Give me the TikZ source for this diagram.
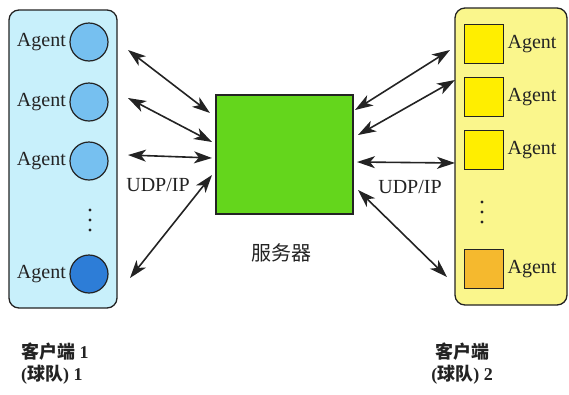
\documentclass[tikz,border=0pt]{standalone}
\usepackage{fontspec}
\setmainfont{Liberation Serif}
\newfontfamily\cjk{Noto Sans CJK SC}
\usepackage{tikz}
\usetikzlibrary{arrows.meta}

\definecolor{paneblue}{RGB}{200,240,251}
\definecolor{paneyellow}{RGB}{250,246,140}
\definecolor{agblue}{RGB}{118,192,240}
\definecolor{agdarkblue}{RGB}{45,125,215}
\definecolor{agyellow}{RGB}{255,238,0}
\definecolor{agorange}{RGB}{245,185,46}
\definecolor{srvgreen}{RGB}{100,214,28}
\definecolor{edge}{RGB}{35,35,35}

\begin{document}
\begin{tikzpicture}[x=1pt, y=-1pt,
    panel/.style={draw=edge, line width=1.3pt, rounded corners=10pt},
    agc/.style={draw=edge, circle, line width=1.2pt, minimum size=38pt, inner sep=0pt, fill=agblue},
    ags/.style={draw=edge, rectangle, line width=1.2pt, minimum size=39pt, inner sep=0pt, fill=agyellow},
    lbl/.style={font=\fontsize{20}{24}\selectfont, text=edge},
    capt/.style={font=\fontsize{18}{22}\selectfont\bfseries, text=edge},
    link/.style={{Stealth[length=18pt,width=12pt,inset=5pt]}-{Stealth[length=18pt,width=12pt,inset=5pt]}, line width=1.6pt, draw=edge},
]
\useasboundingbox (0,0) rectangle (569,394);

% Clients
\node[panel, fill=paneblue, minimum width=108pt, minimum height=298pt] (c1) at (63,159) {};
\node[panel, fill=paneyellow, minimum width=112pt, minimum height=297pt] (c2) at (511,156.5) {};

% Server
\node[draw=edge, line width=1.2pt, fill=srvgreen, minimum width=137pt, minimum height=119pt] (srv) at (284.5,154.5) {};
\node[lbl] (srvlbl) at (281,253) {\cjk 服务器};

% Agents of team 1
\node[agc] (a1) at (89,42) {};
\node[agc] (a2) at (89,102) {};
\node[agc] (a3) at (89,161) {};
\node[agc, fill=agdarkblue] (a4) at (89,274) {};
\foreach \i in {1,...,4}
    \node[lbl, anchor=east] (ta\i) at (a\i.west) {Agent};
\foreach \k in {0,1,2}
    \fill[edge] (90,210+10*\k) circle (1.6pt);

% Agents of team 2
\node[ags] (b1) at (484,44) {};
\node[ags] (b2) at (484,97) {};
\node[ags] (b3) at (484,150) {};
\node[ags, fill=agorange] (b4) at (484,269) {};
\foreach \i in {1,...,4}
    \node[lbl, anchor=west] (tb\i) at (b\i.east) {Agent};
\foreach \k in {0,1,2}
    \fill[edge] (482,202+10*\k) circle (1.6pt);

% Link ends
\coordinate (l1a) at (128,50);  \coordinate (l1b) at (210,113);
\coordinate (l2a) at (128,98);  \coordinate (l2b) at (212,142);
\coordinate (l3a) at (128,155); \coordinate (l3b) at (212,158);
\coordinate (l4a) at (130,278); \coordinate (l4b) at (212,175);
\coordinate (r1a) at (450,50);  \coordinate (r1b) at (355,110);
\coordinate (r2a) at (455,80);  \coordinate (r2b) at (358,135);
\coordinate (r3a) at (455,163); \coordinate (r3b) at (357,162);
\coordinate (r4a) at (447,277); \coordinate (r4b) at (358,190);

% Links
\foreach \i in {1,...,4} {
    \draw[link] (l\i a) -- (l\i b);
    \draw[link] (r\i a) -- (r\i b);
}
\node[lbl] (udp1) at (158,185) {UDP/IP};
\node[lbl] (udp2) at (410,187) {UDP/IP};

% Captions
\node[capt, align=left, anchor=west, inner sep=0pt] (cap1) at (21,364) {{\cjk 客户端} 1\\({\cjk 球队}) 1};
\node[capt, align=center, inner sep=0pt] (cap2) at (462,364) {{\cjk 客户端}\\({\cjk 球队}) 2};
\end{tikzpicture}
\end{document}
